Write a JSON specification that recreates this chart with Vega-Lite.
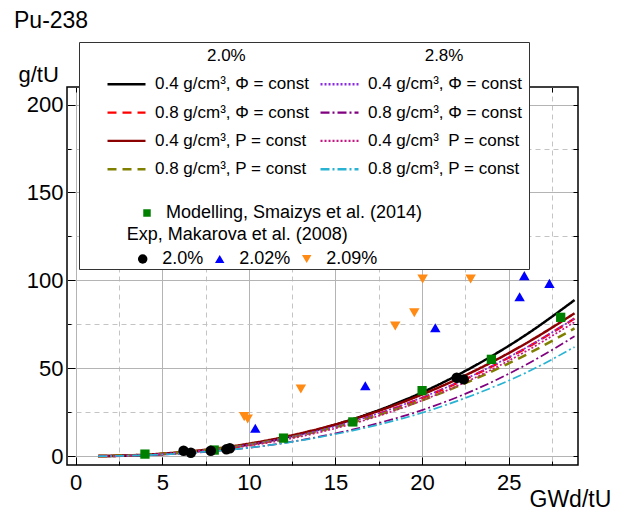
{
  "$schema": "https://vega.github.io/schema/vega-lite/v6.json",
  "width": 511,
  "height": 378,
  "autosize": "none",
  "padding": {"left": 67, "top": 87, "right": 41, "bottom": 48},
  "background": "white",
  "title": {"text": "Pu-238", "anchor": "start", "frame": "group", "dx": -53, "dy": 24, "offset": 15, "baseline": "alphabetic", "fontSize": 23, "fontWeight": "normal", "font": "Liberation Sans", "color": "#000000"},
  "config": {
    "view": {"stroke": "#000000", "strokeWidth": 1.5},
    "font": "Liberation Sans",
    "axis": {"labelFont": "Liberation Sans", "labelColor": "#000000", "titleFont": "Liberation Sans", "titleColor": "#000000", "titleFontWeight": "normal", "tickColor": "#000000", "domain": false}
  },
  "datasets": {
    "lines": [
      {"s": "A1", "x": 1.3, "y": 0.045}, {"s": "A1", "x": 3, "y": 0.349}, {"s": "A1", "x": 5, "y": 1.22}, {"s": "A1", "x": 8, "y": 3.85}, {"s": "A1", "x": 11, "y": 8.41}, {"s": "A1", "x": 14, "y": 15.18}, {"s": "A1", "x": 17, "y": 24.4}, {"s": "A1", "x": 20, "y": 36.3}, {"s": "A1", "x": 23, "y": 51.2}, {"s": "A1", "x": 26, "y": 69.1}, {"s": "A1", "x": 28.8, "y": 88.8},
      {"s": "A2", "x": 1.3, "y": 0.053}, {"s": "A2", "x": 3, "y": 0.379}, {"s": "A2", "x": 5, "y": 1.26}, {"s": "A2", "x": 8, "y": 3.82}, {"s": "A2", "x": 11, "y": 8.1}, {"s": "A2", "x": 14, "y": 14.3}, {"s": "A2", "x": 17, "y": 22.6}, {"s": "A2", "x": 20, "y": 33.1}, {"s": "A2", "x": 23, "y": 46.1}, {"s": "A2", "x": 26, "y": 61.5}, {"s": "A2", "x": 28.8, "y": 78.3},
      {"s": "A3", "x": 1.3, "y": 0.056}, {"s": "A3", "x": 3, "y": 0.393}, {"s": "A3", "x": 5, "y": 1.3}, {"s": "A3", "x": 8, "y": 3.91}, {"s": "A3", "x": 11, "y": 8.23}, {"s": "A3", "x": 14, "y": 14.48}, {"s": "A3", "x": 17, "y": 22.8}, {"s": "A3", "x": 20, "y": 33.4}, {"s": "A3", "x": 23, "y": 46.3}, {"s": "A3", "x": 26, "y": 61.7}, {"s": "A3", "x": 28.8, "y": 78.4},
      {"s": "A4", "x": 1.3, "y": 0.032}, {"s": "A4", "x": 3, "y": 0.251}, {"s": "A4", "x": 5, "y": 0.89}, {"s": "A4", "x": 8, "y": 2.85}, {"s": "A4", "x": 11, "y": 6.0}, {"s": "A4", "x": 14, "y": 11.0}, {"s": "A4", "x": 17, "y": 17.6}, {"s": "A4", "x": 20, "y": 26.2}, {"s": "A4", "x": 23, "y": 37.6}, {"s": "A4", "x": 26, "y": 52.0}, {"s": "A4", "x": 28.8, "y": 68.2},
      {"s": "A5", "x": 1.3, "y": 0.065}, {"s": "A5", "x": 3, "y": 0.444}, {"s": "A5", "x": 5, "y": 1.44}, {"s": "A5", "x": 8, "y": 4.25}, {"s": "A5", "x": 11, "y": 8.86}, {"s": "A5", "x": 14, "y": 15.44}, {"s": "A5", "x": 17, "y": 24.1}, {"s": "A5", "x": 20, "y": 35.1}, {"s": "A5", "x": 23, "y": 48.4}, {"s": "A5", "x": 26, "y": 64.2}, {"s": "A5", "x": 28.8, "y": 81.3},
      {"s": "A6", "x": 1.3, "y": 0.065}, {"s": "A6", "x": 3, "y": 0.432}, {"s": "A6", "x": 5, "y": 1.38}, {"s": "A6", "x": 8, "y": 3.99}, {"s": "A6", "x": 11, "y": 8.22}, {"s": "A6", "x": 14, "y": 14.18}, {"s": "A6", "x": 17, "y": 22.0}, {"s": "A6", "x": 20, "y": 31.8}, {"s": "A6", "x": 23, "y": 43.7}, {"s": "A6", "x": 26, "y": 57.7}, {"s": "A6", "x": 28.8, "y": 72.7},
      {"s": "A7", "x": 1.3, "y": 0.043}, {"s": "A7", "x": 3, "y": 0.326}, {"s": "A7", "x": 5, "y": 1.12}, {"s": "A7", "x": 8, "y": 3.48}, {"s": "A7", "x": 11, "y": 7.49}, {"s": "A7", "x": 14, "y": 13.41}, {"s": "A7", "x": 17, "y": 21.4}, {"s": "A7", "x": 20, "y": 31.7}, {"s": "A7", "x": 23, "y": 44.4}, {"s": "A7", "x": 26, "y": 59.7}, {"s": "A7", "x": 28.8, "y": 76.3},
      {"s": "A8", "x": 1.3, "y": 0.039}, {"s": "A8", "x": 3, "y": 0.283}, {"s": "A8", "x": 5, "y": 0.96}, {"s": "A8", "x": 8, "y": 2.93}, {"s": "A8", "x": 11, "y": 6.0}, {"s": "A8", "x": 14, "y": 10.7}, {"s": "A8", "x": 17, "y": 16.8}, {"s": "A8", "x": 20, "y": 24.7}, {"s": "A8", "x": 23, "y": 35.0}, {"s": "A8", "x": 26, "y": 47.5}, {"s": "A8", "x": 28.8, "y": 62.1}
    ],
    "model": [
      {"m": "Modelling, Smaizys et al. (2014)", "x": 4, "y": 1.2},
      {"m": "Modelling, Smaizys et al. (2014)", "x": 8, "y": 3.5},
      {"m": "Modelling, Smaizys et al. (2014)", "x": 12, "y": 10.3},
      {"m": "Modelling, Smaizys et al. (2014)", "x": 16, "y": 19.5},
      {"m": "Modelling, Smaizys et al. (2014)", "x": 20, "y": 37.3},
      {"m": "Modelling, Smaizys et al. (2014)", "x": 24, "y": 55.1},
      {"m": "Modelling, Smaizys et al. (2014)", "x": 28, "y": 79}
    ],
    "exp": [
      {"e": "2.0%", "x": 6.23, "y": 3.1}, {"e": "2.0%", "x": 6.65, "y": 2.0}, {"e": "2.0%", "x": 7.8, "y": 3.1}, {"e": "2.0%", "x": 8.7, "y": 3.9}, {"e": "2.0%", "x": 8.9, "y": 4.5}, {"e": "2.0%", "x": 22.0, "y": 44.6}, {"e": "2.0%", "x": 22.4, "y": 43.7},
      {"e": "2.02%", "x": 10.37, "y": 15.9}, {"e": "2.02%", "x": 16.72, "y": 40.1}, {"e": "2.02%", "x": 20.76, "y": 73.1}, {"e": "2.02%", "x": 25.63, "y": 90.7}, {"e": "2.02%", "x": 25.9, "y": 102.7}, {"e": "2.02%", "x": 27.35, "y": 98.3},
      {"e": "2.09%", "x": 9.73, "y": 22.5}, {"e": "2.09%", "x": 9.93, "y": 21.2}, {"e": "2.09%", "x": 13.0, "y": 38.2}, {"e": "2.09%", "x": 18.45, "y": 74.1}, {"e": "2.09%", "x": 19.55, "y": 81.6}, {"e": "2.09%", "x": 20.03, "y": 100.8}, {"e": "2.09%", "x": 22.8, "y": 100.8}
    ]
  },
  "layer": [
    {
      "data": {"name": "lines"},
      "encoding": {
        "x": {"field": "x", "type": "quantitative", "scale": {"domain": [-0.5, 29], "nice": false, "zero": false},
          "axis": {"orient": "bottom", "values": [0, 5, 10, 15, 20, 25], "tickSize": -8, "labelPadding": 15, "labelFontSize": 22, "grid": true, "gridColor": "#b4b4b4", "gridWidth": 1,
            "title": "GWd/tU", "titleFontSize": 23, "titleX": 462, "titleY": 41, "titleAlign": "left", "titleBaseline": "alphabetic", "titleAnchor": null}},
        "y": {"field": "y", "type": "quantitative", "scale": {"domain": [-5, 210], "nice": false, "zero": false},
          "axis": {"orient": "left", "values": [0, 50, 100, 150, 200], "tickSize": -8, "labelPadding": 12, "labelFontSize": 22, "grid": true, "gridColor": "#b4b4b4", "gridWidth": 1,
            "title": "g/tU", "titleFontSize": 22, "titleAngle": 0, "titleX": -49, "titleY": -6, "titleAlign": "left", "titleBaseline": "alphabetic", "titleAnchor": null}},
        "color": {"field": "s", "type": "nominal",
          "scale": {"domain": ["h1", "h2", "A1", "A3", "A2", "A4", "A5", "A7", "A6", "A8", "b1", "b2", "b3", "b4", "b5", "b6"],
            "range": ["#ffffff", "#ffffff", "#000000", "#8a2be2", "#ff0000", "#800080", "#8b0000", "#c71585", "#808000", "#29b3d3", "#ffffff", "#ffffff", "#ffffff", "#ffffff", "#ffffff", "#ffffff"]},
          "legend": {"orient": "none", "legendX": 12, "legendY": -45, "zindex": 1, "columns": 2, "direction": "horizontal", "gridAlign": "each",
            "title": "\u200b\u00a0\u00a0\u00a0\u00a0\u200b", "titleOrient": "left", "titleFontSize": 17, "titlePadding": 4,
            "padding": 4, "fillColor": "#ffffff", "strokeColor": "#333333",
            "symbolType": "stroke", "symbolSize": 1444, "symbolStrokeWidth": 2.4, "symbolOffset": 0,
            "clipHeight": 20, "rowPadding": 8.3, "columnPadding": 10,
            "labelFontSize": 17, "labelFont": "Liberation Sans", "labelColor": "#000000", "labelLimit": 400, "labelOffset": 8,
            "labelExpr": "({h1:'\u200b\u00a0\u00a0\u00a0\u00a0\u00a0\u00a0\u00a0\u00a0\u00a0\u00a0\u00a02.0%', h2:'\u200b\u00a0\u00a0\u00a0\u00a0\u00a0\u00a0\u00a0\u00a0\u00a0\u00a0\u00a0\u00a02.8%\u00a0\u00a0\u00a0\u00a0\u00a0\u00a0\u00a0\u00a0\u00a0\u00a0\u00a0\u00a0\u00a0\u200b', A1:'0.4 g/cm³, Φ = const', A3:'0.4 g/cm³, Φ = const', A2:'0.8 g/cm³, Φ = const', A4:'0.8 g/cm³, Φ = const', A5:'0.4 g/cm³, P = const', A7:'0.4 g/cm³\u00a0\u00a0P = const', A6:'0.8 g/cm³, P = const', A8:'0.8 g/cm³, P = const'})[datum.value] || ''"}},
        "strokeDash": {"field": "s", "type": "nominal",
          "scale": {"domain": ["h1", "h2", "A1", "A3", "A2", "A4", "A5", "A7", "A6", "A8", "b1", "b2", "b3", "b4", "b5", "b6"],
            "range": [[1, 0], [1, 0], [1, 0], [2, 2], [9, 6], [9, 3, 2, 3], [1, 0], [2, 2], [9, 6], [9, 3, 2, 3], [1, 0], [1, 0], [1, 0], [1, 0], [1, 0], [1, 0]]},
          "legend": {"orient": "none", "legendX": 12, "legendY": -45, "zindex": 1, "columns": 2, "direction": "horizontal", "gridAlign": "each",
            "title": "\u200b\u00a0\u00a0\u00a0\u00a0\u200b", "titleOrient": "left", "titleFontSize": 17, "titlePadding": 4,
            "padding": 4, "fillColor": "#ffffff", "strokeColor": "#333333",
            "symbolType": "stroke", "symbolSize": 1444, "symbolStrokeWidth": 2.4, "symbolOffset": 0,
            "clipHeight": 20, "rowPadding": 8.3, "columnPadding": 10,
            "labelFontSize": 17, "labelFont": "Liberation Sans", "labelColor": "#000000", "labelLimit": 400, "labelOffset": 8,
            "labelExpr": "({h1:'\u200b\u00a0\u00a0\u00a0\u00a0\u00a0\u00a0\u00a0\u00a0\u00a0\u00a0\u00a02.0%', h2:'\u200b\u00a0\u00a0\u00a0\u00a0\u00a0\u00a0\u00a0\u00a0\u00a0\u00a0\u00a0\u00a02.8%\u00a0\u00a0\u00a0\u00a0\u00a0\u00a0\u00a0\u00a0\u00a0\u00a0\u00a0\u00a0\u00a0\u200b', A1:'0.4 g/cm³, Φ = const', A3:'0.4 g/cm³, Φ = const', A2:'0.8 g/cm³, Φ = const', A4:'0.8 g/cm³, Φ = const', A5:'0.4 g/cm³, P = const', A7:'0.4 g/cm³\u00a0\u00a0P = const', A6:'0.8 g/cm³, P = const', A8:'0.8 g/cm³, P = const'})[datum.value] || ''"}}
      },
      "layer": [
        {"transform": [{"filter": {"field": "s", "oneOf": ["A1", "A2", "A5", "A6"]}}], "mark": {"type": "line", "strokeWidth": 2.5, "interpolate": "monotone"}},
        {"transform": [{"filter": {"field": "s", "oneOf": ["A3", "A4", "A7", "A8"]}}], "mark": {"type": "line", "strokeWidth": 1.7, "interpolate": "monotone"}}
      ]
    },
    {
      "data": {"name": "model"},
      "mark": {"type": "point", "filled": true, "size": 86, "color": "#008000", "opacity": 1},
      "encoding": {
        "x": {"field": "x", "type": "quantitative", "axis": {"orient": "bottom", "values": [2.5, 7.5, 12.5, 17.5, 22.5, 27.5], "labels": false, "tickSize": -4, "grid": true, "gridColor": "#c4c4c4", "gridDash": [5, 4], "title": null}},
        "y": {"field": "y", "type": "quantitative", "axis": {"orient": "left", "values": [25, 75, 125, 175], "labels": false, "tickSize": -4, "grid": true, "gridColor": "#c4c4c4", "gridDash": [5, 4], "title": null}},
        "shape": {"field": "m", "type": "nominal", "scale": {"domain": ["Modelling, Smaizys et al. (2014)"], "range": ["square"]},
          "legend": {"orient": "none", "legendX": 71, "legendY": 116, "zindex": 2, "title": null, "padding": 0, "symbolSize": 56, "symbolFillColor": "#008000", "symbolStrokeColor": "#008000", "symbolOffset": 0, "labelOffset": 10, "clipHeight": 20, "labelFontSize": 18, "labelFont": "Liberation Sans", "labelColor": "#000000", "labelLimit": 400}}
      }
    },
    {
      "data": {"name": "exp"},
      "mark": {"type": "point", "filled": true, "size": 110, "opacity": 1},
      "encoding": {
        "x": {"field": "x", "type": "quantitative", "axis": {"orient": "top", "values": [0, 2.5, 5, 7.5, 10, 12.5, 15, 17.5, 20, 22.5, 25, 27.5], "labels": false, "tickSize": -5, "grid": false, "title": null}},
        "y": {"field": "y", "type": "quantitative", "axis": {"orient": "right", "values": [0, 25, 50, 75, 100, 125, 150, 175, 200], "labels": false, "tickSize": -5, "grid": false, "title": null}},
        "color": {"field": "e", "type": "nominal", "scale": {"domain": ["2.0%", "2.02%", "2.09%"], "range": ["#000000", "#0000ff", "#ff8a14"]},
          "legend": {"orient": "none", "legendX": 59.7, "legendY": 139, "zindex": 2, "title": "Exp, Makarova et al. (2008)", "titleFontSize": 18, "titleFontWeight": "normal", "titleFont": "Liberation Sans", "titleColor": "#000000", "titlePadding": 5, "titleLimit": 400, "direction": "horizontal", "columns": 3, "padding": 0, "symbolSize": 90, "symbolOffset": 7, "labelOffset": 10.5, "columnPadding": 0, "clipHeight": 20, "labelFontSize": 18, "labelFont": "Liberation Sans", "labelColor": "#000000"}},
        "shape": {"field": "e", "type": "nominal", "scale": {"domain": ["2.0%", "2.02%", "2.09%"], "range": ["circle", "triangle-up", "triangle-down"]},
          "legend": {"orient": "none", "legendX": 59.7, "legendY": 139, "zindex": 2, "title": "Exp, Makarova et al. (2008)", "titleFontSize": 18, "titleFontWeight": "normal", "titleFont": "Liberation Sans", "titleColor": "#000000", "titlePadding": 5, "titleLimit": 400, "direction": "horizontal", "columns": 3, "padding": 0, "symbolSize": 90, "symbolOffset": 7, "labelOffset": 10.5, "columnPadding": 0, "clipHeight": 20, "labelFontSize": 18, "labelFont": "Liberation Sans", "labelColor": "#000000"}}
      }
    }
  ],
  "resolve": {"scale": {"color": "independent", "shape": "independent", "strokeDash": "independent"}, "axis": {"x": "independent", "y": "independent"}}
}
